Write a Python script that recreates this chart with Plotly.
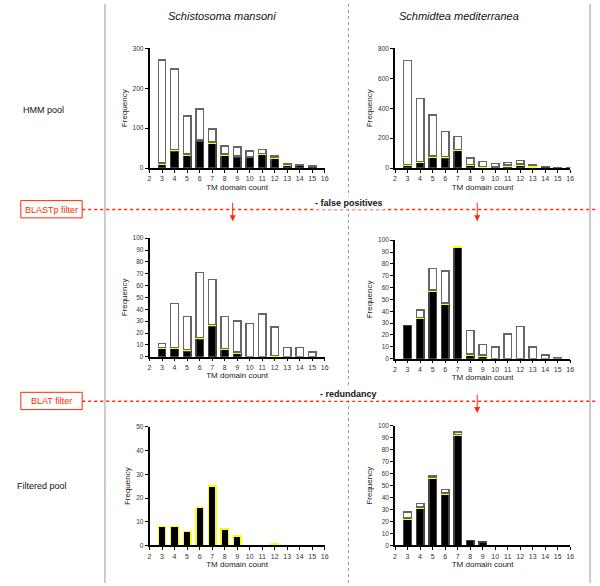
import plotly.graph_objects as go

W, H = 600, 586
tm_counts = list(range(3, 17))
tick_vals = list(range(2, 17))

# S. mansoni - HMM pool
sm_hmm_black = [10, 43, 32, 68, 62, 32, 28, 26, 34, 24, 7, 6, 4, 0]
sm_hmm_yellow = [3, 3, 3, 2, 3, 3, 2, 2, 3, 3, 2, 2, 0, 0]
sm_hmm_total = [271, 248, 131, 148, 98, 55, 53, 43, 46, 30, 10, 9, 5, 0]
# S. mediterranea - HMM pool
smed_hmm_black = [15, 35, 70, 68, 118, 15, 5, 3, 12, 18, 2, 7, 2, 0]
smed_hmm_yellow = [10, 8, 10, 10, 6, 8, 6, 5, 8, 10, 18, 2, 0, 0]
smed_hmm_total = [718, 464, 356, 245, 210, 68, 44, 31, 38, 51, 25, 10, 3, 1]
# S. mansoni - after BLASTp
sm_bp_black = [7, 7, 5, 15, 26, 6, 3, 0, 0, 0, 0, 0, 0, 0]
sm_bp_yellow = [1, 1, 1, 1, 1, 1, 1, 0, 0, 1, 0, 0, 0, 0]
sm_bp_total = [11, 45, 34, 71, 65, 34, 30, 28, 36, 25, 8, 8, 4, 0]
# S. mediterranea - after BLASTp
smed_bp_black = [28, 34, 57, 46, 94, 3, 2, 0, 0, 0, 0, 0, 0, 0]
smed_bp_yellow = [0, 1, 1, 1, 1, 1, 1, 0, 0, 0, 0, 0, 0, 0]
smed_bp_total = [28, 41, 76, 74, 95, 24, 12, 10, 21, 27, 10, 3, 1, 0]
# S. mansoni - filtered pool
sm_filt_black = [8, 8, 6, 16, 25, 7, 4, 0, 0, 0, 0, 0, 0, 0]
sm_filt_yellow = [0, 0, 0, 0, 0, 0, 0, 0, 0, 1, 0, 0, 0, 0]
sm_filt_total = [8, 8, 6, 16, 25, 7, 4, 0, 0, 1, 0, 0, 0, 0]
# S. mediterranea - filtered pool
smed_filt_black = [22, 31, 56, 43, 92, 4, 3, 0, 0, 0, 0, 0, 0, 0]
smed_filt_yellow = [1, 1, 1, 1, 1, 0, 0, 0, 0, 0, 0, 0, 0, 0]
smed_filt_total = [28, 35, 58, 47, 95, 4, 3, 0, 0, 0, 0, 0, 0, 0]

header_left = "Schistosoma mansoni"
header_right = "Schmidtea mediterranea"
row_labels = ["HMM pool", "Filtered pool"]
filter_labels = ["BLASTp filter", "BLAT filter"]
step_labels = ["- false positives", "- redundancy"]


def px(x):
    return x / W


def py(y):
    return 1 - y / H


FONT = "Liberation Sans, Arial, sans-serif"

# (black, yellow, total, ymax, ydtick, x-pixel-range, y-pixel-range(bottom, top), black outline)
panels = [
    (sm_hmm_black, sm_hmm_yellow, sm_hmm_total, 300, 100, (149, 326), (166, 45), "#444"),
    (smed_hmm_black, smed_hmm_yellow, smed_hmm_total, 800, 200, (397, 574), (166, 45), "#444"),
    (sm_bp_black, sm_bp_yellow, sm_bp_total, 100, 10, (149, 326), (357, 237), "#444"),
    (smed_bp_black, smed_bp_yellow, smed_bp_total, 100, 10, (397, 574), (359, 239), "#444"),
    (sm_filt_black, sm_filt_yellow, sm_filt_total, 50, 10, (149, 326), (548, 428), "#ffff00"),
    (smed_filt_black, smed_filt_yellow, smed_filt_total, 100, 10, (397, 574), (548, 427), "#444"),
]

fig = go.Figure()
layout = {}


def nz(v):
    return [a if a > 0 else None for a in v]


for i, (blk, yel, tot, ymax, dt, xr, yr, bline) in enumerate(panels, start=1):
    white = [t - b - y for t, b, y in zip(tot, blk, yel)]
    xa = "x" if i == 1 else f"x{i}"
    ya = "y" if i == 1 else f"y{i}"
    for vals, col, lc, lw in ((blk, "#000000", bline, 1.4),
                              (white, "#ffffff", "#666", 1.4),
                              (yel, "#ffff00", "#ffff00", 1.0)):
        pass
    for vals, col, lc, lw in ((blk, "#000000", bline, 1.4),
                              (yel, "#ffff00", "#ffff00", 1.0),
                              (white, "#ffffff", "#666", 1.4)):
        fig.add_trace(go.Bar(
            x=tm_counts, y=nz(vals), xaxis=xa, yaxis=ya, width=0.6,
            marker=dict(color=col, line=dict(color=lc, width=lw)),
            showlegend=False, hoverinfo="skip"))
    xk = "xaxis" if i == 1 else f"xaxis{i}"
    yk = "yaxis" if i == 1 else f"yaxis{i}"
    layout[xk] = dict(
        domain=[px(xr[0]), px(xr[1])], anchor=ya, range=[2, 16],
        tickmode="array", tickvals=tick_vals, ticks="outside", ticklen=3,
        tickwidth=1, tickcolor="#000", showline=True, linecolor="#000",
        linewidth=1.5, showgrid=False, zeroline=False,
        tickfont=dict(size=7, color="#333", family=FONT),
        title=dict(text="TM domain count", font=dict(size=8, color="#222", family=FONT), standoff=3),
    )
    layout[yk] = dict(
        domain=[py(yr[0]), py(yr[1])], anchor=xa, range=[0, ymax],
        dtick=dt, ticks="outside", ticklen=3, tickwidth=1, tickcolor="#000",
        showline=True, linecolor="#000", linewidth=1.5, showgrid=False,
        zeroline=False, tickfont=dict(size=6.5, color="#333", family=FONT),
        title=dict(text="Frequency", font=dict(size=8, color="#222", family=FONT), standoff=4),
    )

red = "#ff2a00"
shapes = [
    dict(type="line", xref="paper", yref="paper", x0=px(104), x1=px(104), y0=0, y1=1,
         line=dict(color="#9a9a9a", width=1)),
    dict(type="line", xref="paper", yref="paper", x0=px(594), x1=px(594), y0=0, y1=1,
         line=dict(color="#9a9a9a", width=1)),
    dict(type="line", xref="paper", yref="paper", x0=px(350), x1=px(350), y0=0, y1=1,
         line=dict(color="#9a9a9a", width=1, dash="dot")),
]


def label(text, x, y, size, color="#111", bg=None):
    d = dict(text=text, x=px(x), y=py(y), xref="paper", yref="paper",
             xanchor="center", yanchor="middle", showarrow=False,
             font=dict(size=size, color=color, family=FONT))
    if bg:
        d["bgcolor"] = bg
    return d


annotations = [
    label(f"<i>{header_left}</i>", 222, 12, 11),
    label(f"<i>{header_right}</i>", 462, 12, 11),
    label(row_labels[0], 42, 107, 9),
    label(row_labels[1], 40, 488, 9),
]

for flabel, step, yline, arrows in (
    (filter_labels[0], step_labels[0], 208, [233, 480]),
    (filter_labels[1], step_labels[1], 402, [480]),
):
    shapes.append(dict(type="line", xref="paper", yref="paper", x0=px(81), x1=1,
                       y0=py(yline), y1=py(yline), line=dict(color=red, width=1.5, dash="dot")))
    shapes.append(dict(type="rect", xref="paper", yref="paper", x0=px(19), x1=px(81),
                       y0=py(yline + 8.5), y1=py(yline - 9), line=dict(color=red, width=1),
                       fillcolor="white"))
    annotations.append(label(flabel, 50, yline, 9, color=red))
    annotations.append(label(f"<b>{step}</b>", 350, yline - 7, 9, bg="white"))
    for ax in arrows:
        annotations.append(dict(x=px(ax), y=py(yline + 12), ax=0, ay=-20,
                                xref="paper", yref="paper", axref="pixel", ayref="pixel",
                                text="", showarrow=True, arrowhead=2, arrowsize=1.2,
                                arrowwidth=1, arrowcolor=red))

fig.update_layout(
    width=W, height=H, margin=dict(l=0, r=0, t=0, b=0),
    paper_bgcolor="white", plot_bgcolor="white", barmode="stack",
    font=dict(family=FONT), shapes=shapes, annotations=annotations, **layout)

fig.write_html("out.html", config={"displayModeBar": False},
               post_script="document.body.style.margin='0';document.body.style.overflow='hidden';")
